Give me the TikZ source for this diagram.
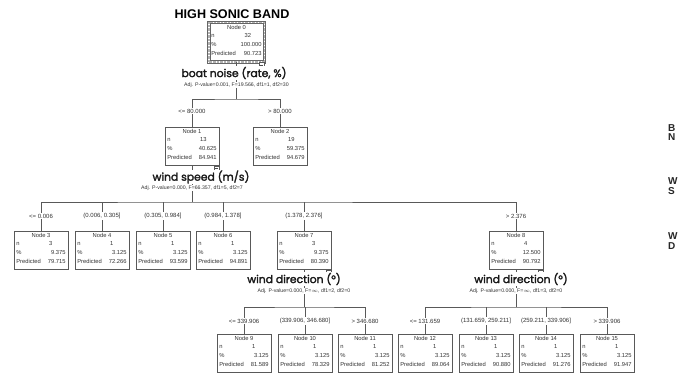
\documentclass[tikz,border=0pt]{standalone}
\usepackage{fontspec}
\setmainfont{Liberation Sans}
\newfontfamily\popp{Poppins}[FakeBold=2.2]
\newcommand\mynode[8][]{%
 \node[box,#1] (#2) at (#3,#4+19) {};
 \node[txt, anchor=base] (#2-t) at ([yshift=-7pt]#2.north) {Node #5};
 \node[txt, anchor=base west] (#2-nl) at ([xshift=2.5pt,yshift=-15pt]#2.north west) {n};
 \node[txt, anchor=base west] (#2-nv) at ([xshift=8pt,yshift=-15pt]#2.north) {#6};
 \node[txt, anchor=base west] (#2-pl) at ([xshift=2.5pt,yshift=-24pt]#2.north west) {\%};
 \node[txt, anchor=base east] (#2-pv) at ([xshift=-2.5pt,yshift=-24pt]#2.north east) {#7};
 \node[txt, anchor=base west] (#2-rl) at ([xshift=2.5pt,yshift=-33pt]#2.north west) {Predicted};
 \node[txt, anchor=base east] (#2-rv) at ([xshift=-2.5pt,yshift=-33pt]#2.north east) {#8};
}
\newcommand\myicon[1]{%
 \node[icon] (#1-ic) at ([xshift=-3pt,yshift=-3pt]#1.south east) {};
 \draw[black!70, line width=0.5pt] ([xshift=-1.6pt]#1-ic.center) -- ([xshift=1.6pt]#1-ic.center);
}
\begin{document}
\begin{tikzpicture}[x=1pt,y=-1pt,
 box/.style={draw=black!65, line width=0.7pt, minimum width=54pt, minimum height=38pt, inner sep=0pt},
 txt/.style={font=\fontsize{5.8}{6}\selectfont, inner sep=0pt, text=black!80},
 conn/.style={draw=black!65, line width=0.7pt},
 lab/.style={font=\fontsize{6}{7}\selectfont, fill=white, inner sep=1pt, text=black!80},
 head/.style={font=\popp\fontsize{10.8}{12}\selectfont, fill=white, inner sep=0.5pt, text=black!90},
 pval/.style={font=\fontsize{5.2}{6}\selectfont, fill=white, inner sep=1pt, text=black!80},
 icon/.style={draw=black!65, fill=white, line width=0.5pt, minimum size=5pt, inner sep=0pt},
 side/.style={font=\bfseries\fontsize{10}{10}\selectfont, inner sep=0pt, anchor=west, text=black!85}]
\clip (0,0) rectangle (679,386);
\fill[white] (0,0) rectangle (679,386);

% title
\node[font=\bfseries\fontsize{12.6}{13}\selectfont, inner sep=0pt] (title) at (232,14) {HIGH SONIC BAND};

% nodes
\mynode[draw=none, minimum width=55pt, minimum height=39pt]{n0}{236.5}{23}{0}{32}{100.000}{90.723}
\mynode{n1}{192}{127}{1}{13}{40.625}{84.941}
\mynode{n2}{280}{127}{2}{19}{59.375}{94.679}
\mynode{n3}{41}{231}{3}{3}{9.375}{79.715}
\mynode{n4}{102}{231}{4}{1}{3.125}{72.266}
\mynode{n5}{163}{231}{5}{1}{3.125}{93.599}
\mynode{n6}{223}{231}{6}{1}{3.125}{94.891}
\mynode{n7}{304}{231}{7}{3}{9.375}{80.390}
\mynode{n8}{516}{231}{8}{4}{12.500}{90.792}
\mynode{n9}{244}{334}{9}{1}{3.125}{81.589}
\mynode{n10}{305}{334}{10}{1}{3.125}{78.329}
\mynode{n11}{365}{334}{11}{1}{3.125}{81.252}
\mynode{n12}{425}{334}{12}{1}{3.125}{89.064}
\mynode{n13}{486}{334}{13}{1}{3.125}{90.880}
\mynode{n14}{546}{334}{14}{1}{3.125}{91.276}
\mynode{n15}{607}{334}{15}{1}{3.125}{91.947}

% node 0 hatched border
\draw[black!30, line width=2.2pt, dash pattern=on 0.7pt off 0.7pt] (n0.south west) rectangle (n0.north east);
\draw[black!60, line width=0.45pt] ([shift={(-1.2pt,-1.2pt)}]n0.south west) rectangle ([shift={(1.2pt,1.2pt)}]n0.north east);
\draw[black!60, line width=0.45pt] ([shift={(1.2pt,1.2pt)}]n0.south west) rectangle ([shift={(-1.2pt,-1.2pt)}]n0.north east);

% bars
\coordinate (b0) at (236.5,99);
\coordinate (b1) at (192,202);
\coordinate (b7) at (304,307);
\coordinate (b8) at (516,307);

% connectors
\draw[conn] (n0.south) -- (b0);
\draw[conn] (n1.north) |- (b0) -| (n2.north);
\draw[conn] (n1.south) -- (b1);
\draw[conn] (n3.north) |- (b1) -| (n8.north);
\foreach \k in {n4,n5,n6,n7} \draw[conn] (\k.north) -- (\k.north |- b1);
\draw[conn] (n7.south) -- (b7);
\draw[conn] (n9.north) |- (b7) -| (n11.north);
\draw[conn] (n10.north) -- (n10.north |- b7);
\draw[conn] (n8.south) -- (b8);
\draw[conn] (n12.north) |- (b8) -| (n15.north);
\foreach \k in {n13,n14} \draw[conn] (\k.north) -- (\k.north |- b8);

% icons
\myicon{n0}
\myicon{n1}
\myicon{n7}
\myicon{n8}

% headings
\node[head] (h0) at (234,73) {boat noise (rate, \%)};
\node[pval] (p0) at (236.5,85) {Adj. P-value=0.001, F=19.566, df1=1, df2=30};
\node[head] (h1) at (201,177) {wind speed (m/s)};
\node[pval] (p1) at (192,188) {Adj. P-value=0.000, F=66.357, df1=5, df2=7};
\node[head] (h7) at (294,279) {wind direction (°)};
\node[pval] (p7) at (304,291) {Adj. P-value=0.000, F=$\infty$, df1=2, df2=0};
\node[head] (h8) at (521,279) {wind direction (°)};
\node[pval] (p8) at (516,291) {Adj. P-value=0.000, F=$\infty$, df1=3, df2=0};

% branch labels
\node[lab] (l1) at (192,111) {<= 80.000};
\node[lab] (l2) at (280,111) {> 80.000};
\node[lab] (l3) at (41,216) {<= 0.006};
\node[lab] (l4) at (102,216) {(0.006, 0.305]};
\node[lab] (l5) at (163,216) {(0.305, 0.984]};
\node[lab] (l6) at (223,216) {(0.984, 1.378]};
\node[lab] (l7) at (304,216) {(1.378, 2.376]};
\node[lab] (l8) at (516,216) {> 2.376};
\node[lab] (l9) at (244,321) {<= 339.906};
\node[lab] (l10) at (305,321) {(339.906, 346.680]};
\node[lab] (l11) at (365,321) {> 346.680};
\node[lab] (l12) at (425,321) {<= 131.659};
\node[lab] (l13) at (486,321) {(131.659, 259.211]};
\node[lab] (l14) at (546,321) {(259.211, 339.906]};
\node[lab] (l15) at (607,321) {> 339.906};

% cropped side legend
\node[side] (s1a) at (668,128) {B};
\node[side] (s1b) at (668,137.5) {N};
\node[side] (s2a) at (668,181.5) {W};
\node[side] (s2b) at (668,191) {S};
\node[side] (s3a) at (668,236.5) {W};
\node[side] (s3b) at (668,246) {D};
\end{tikzpicture}
\end{document}
